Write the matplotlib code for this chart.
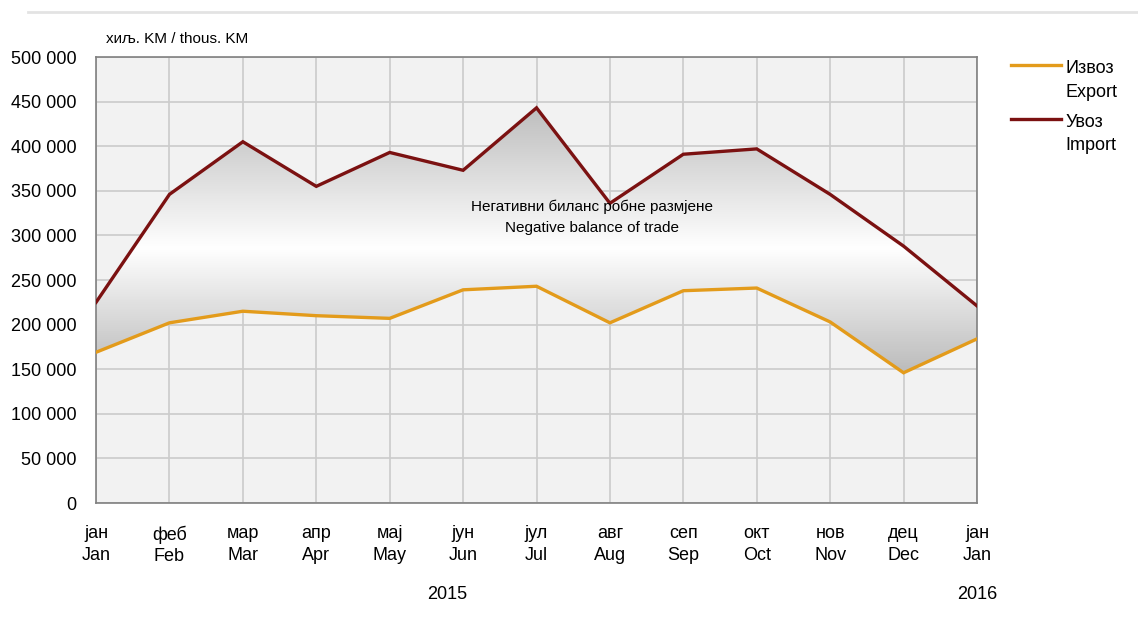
import matplotlib.pyplot as plt
import numpy as np
from matplotlib.colors import LinearSegmentedColormap
from matplotlib.lines import Line2D

# podaci (hilj. KM)
mjeseci = ["јан\nJan", "феб\nFeb", "мар\nMar", "апр\nApr", "мај\nMay", "јун\nJun",
           "јул\nJul", "авг\nAug", "сеп\nSep", "окт\nOct", "нов\nNov", "дец\nDec", "јан\nJan"]
izvoz = [169000, 202000, 215000, 210000, 207000, 239000, 243000, 202000, 238000, 241000, 203000, 146000, 184000]
uvoz = [225000, 346000, 405000, 355000, 393000, 373000, 443000, 336000, 391000, 397000, 346000, 288000, 221000]
yticks = [0, 50000, 100000, 150000, 200000, 250000, 300000, 350000, 400000, 450000, 500000]

plt.rcParams['font.family'] = ['Liberation Sans Narrow', 'Liberation Sans', 'DejaVu Sans']

boja_izvoz = "#E39B1B"
boja_uvoz = "#7B1111"

fig = plt.figure(figsize=(11.38, 6.32), dpi=100)
ax = fig.add_axes([0.0844, 0.2041, 0.7741, 0.7057])
x = np.arange(len(mjeseci))

ax.set_facecolor("#f2f2f2")
ax.set_axisbelow(True)
ax.grid(color="#cbcbcb", linewidth=1.2)

# gradijent izmedju krivih
poly = ax.fill_between(x, izvoz, uvoz, facecolor="none", edgecolor="none")
cmap = LinearSegmentedColormap.from_list("g", [(0.0, "#bdbdbd"), (0.30, "#bdbdbd"), (0.57, "#ffffff"),
                                                (0.89, "#bdbdbd"), (1.0, "#bdbdbd")])
grad = np.linspace(0, 1, 500).reshape(-1, 1)
img = ax.imshow(grad, cmap=cmap, extent=[0, 12, 0, 500000], origin="lower", aspect="auto", zorder=1)
img.set_clip_path(poly.get_paths()[0], transform=ax.transData)

ax.plot(x, izvoz, color=boja_izvoz, linewidth=2.4, zorder=3, solid_joinstyle="miter")
ax.plot(x, uvoz, color=boja_uvoz, linewidth=2.4, zorder=3, solid_joinstyle="miter")

ax.set_xlim(0, 12)
ax.set_ylim(0, 500000)
ax.set_xticks(x)
ax.set_xticklabels(mjeseci, fontsize=13, linespacing=1.35)
ax.set_yticks(yticks)
ax.set_yticklabels([f"{v:,}".replace(",", " ") for v in yticks], fontsize=13)
ax.tick_params(axis="y", length=0, pad=14)
ax.tick_params(axis="x", length=0, pad=16)
for s in ax.spines.values():
    s.set_color("#808080")
    s.set_linewidth(1.2)

ax.text(0.011, 1.025, "хиљ. KM / thous. KM", transform=ax.transAxes, fontsize=11, va="bottom")
ax.text(6.75, 320000, "Негативни биланс робне размјене\nNegative balance of trade",
        ha="center", va="center", fontsize=11, linespacing=1.65)
ax.text(4.78, -0.205, "2015", transform=ax.get_xaxis_transform(), ha="center", va="center", fontsize=13)
ax.text(12, -0.205, "2016", transform=ax.get_xaxis_transform(), ha="center", va="center", fontsize=13)

# legenda
fig.add_artist(Line2D([0.888, 0.932], [0.897, 0.897], color=boja_izvoz, linewidth=2.4, transform=fig.transFigure))
fig.text(0.936, 0.905, "Извоз\nExport", fontsize=13, va="top", ha="left", linespacing=1.5)
fig.add_artist(Line2D([0.888, 0.932], [0.811, 0.811], color=boja_uvoz, linewidth=2.4, transform=fig.transFigure))
fig.text(0.936, 0.820, "Увоз\nImport", fontsize=13, va="top", ha="left", linespacing=1.5)

# gornja linija
fig.add_artist(Line2D([0.025, 1.0], [0.981, 0.981], color="#e3e3e3", linewidth=2, transform=fig.transFigure))

fig.savefig("out.png", dpi=100)
